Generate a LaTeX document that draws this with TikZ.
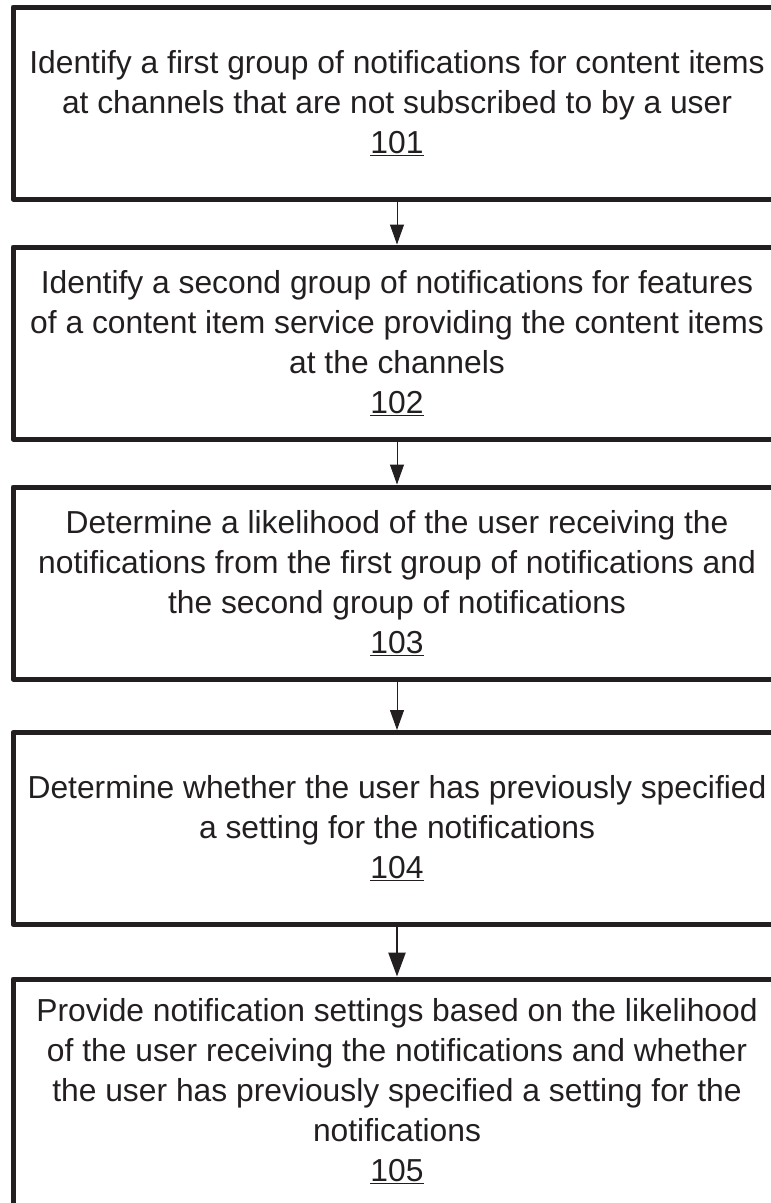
\documentclass[tikz,border=0pt]{standalone}
\usepackage{fontspec}
\setmainfont{Liberation Sans}
\usetikzlibrary{arrows.meta}
\definecolor{ink}{HTML}{231F20}

\begin{document}
\begin{tikzpicture}[x=1pt,y=-1pt,
    stepbox/.style={draw=ink,text=ink,line width=5pt,line join=round,shape=rectangle,
        minimum width=768pt,minimum height=192pt,align=center,
        font=\fontsize{31.8}{40}\selectfont},
    flow/.style={ink,line width=1pt,-{Triangle[length=20pt,width=14pt]}},
    flowbold/.style={ink,line width=2.5pt,-{Triangle[length=24pt,width=17pt]}}]
    \useasboundingbox (0,0) rectangle (771,1203);
    \clip (0,0) rectangle (771,1203);

    \draw (397,103) node [stepbox] (s1) {Identify a first group of notifications for content items\\
        at channels that are not subscribed to by a user\\ \underline{101}};
    \draw (397,343) node [stepbox] (s2) {Identify a second group of notifications for features\\
        of a content item service providing the content items\\ at the channels\\ \underline{102}};
    \draw (397,583) node [stepbox] (s3) {Determine a likelihood of the user receiving the\\
        notifications from the first group of notifications and\\ the second group of notifications\\ \underline{103}};
    \draw (397,828.5) node [stepbox] (s4) {Determine whether the user has previously specified\\
        a setting for the notifications\\ \underline{104}};
    \draw (397,976.5) node [stepbox,anchor=north,minimum height=0pt,inner ysep=19pt] (s5) {Provide notification settings based on the likelihood\\
        of the user receiving the notifications and whether\\ the user has previously specified a setting for the\\
        notifications\\ \underline{105}\rule[-60pt]{0pt}{0pt}};

    \draw[flow] (s1) -- (s2);
    \draw[flow] (s2) -- (s3);
    \draw[flow] (s3) -- (s4);
    \draw[flowbold] (s4) -- (s5);
\end{tikzpicture}
\end{document}
